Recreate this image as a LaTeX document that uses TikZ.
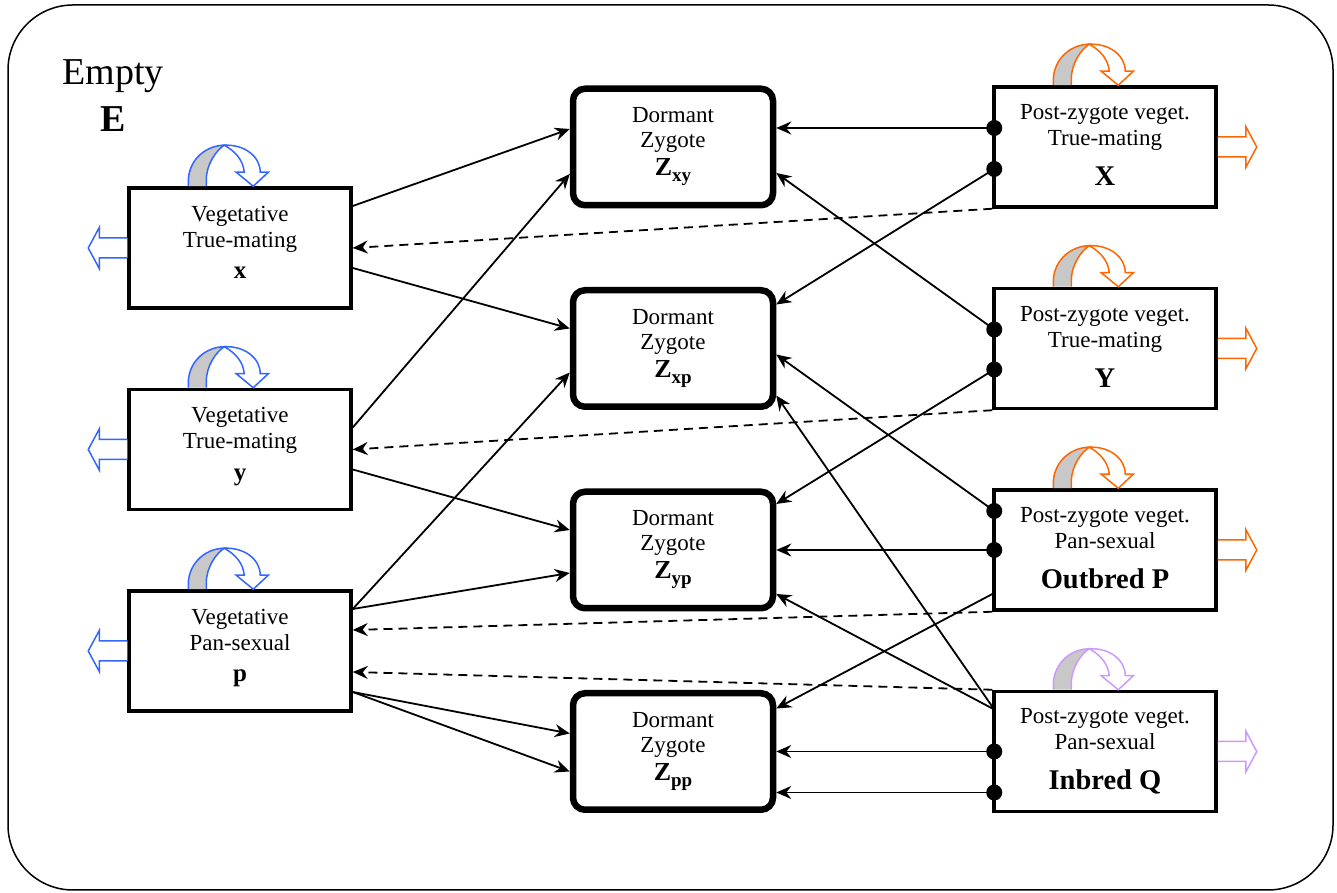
\documentclass[tikz,border=0pt]{standalone}
\usepackage{fontspec}
\setmainfont{Liberation Serif}
\usepackage{tikz}
\usetikzlibrary{arrows.meta,positioning,calc}

\definecolor{vegblue}{RGB}{51,102,255}
\definecolor{postorange}{RGB}{255,102,0}
\definecolor{inbredlilac}{RGB}{204,153,255}
\definecolor{loopgray}{RGB}{200,200,200}

%% curved arrow sitting on top of a box
\newcommand{\selfloop}[2]{%
  \begin{scope}[shift={(#1.north west)}, -, line width=1.5pt, draw=#2]
    \filldraw[fill=loopgray] (61,0) -- (61,6) .. controls (62,28) and (80,41) .. (97,41)
      .. controls (89,36) and (79,22) .. (79,6) -- (79,0);
    \filldraw[fill=white] (97,41) .. controls (117,42) and (133,30) .. (133,14) -- (141,14)
      -- (126,0) -- (109,14) -- (117,14) .. controls (116,26) and (108,35) .. (97,41) -- cycle;
  \end{scope}}
%% hollow block arrow leaving a box
\newcommand{\outarrow}[3]{%
  \filldraw[-, line width=1.5pt, draw=#3, fill=white, shift={(#1)}, xscale=#2]
    (0,10) -- (28,10) -- (28,20.5) -- (39,0) -- (28,-20.5) -- (28,-10) -- (0,-10);}
\newcommand{\zname}[1]{\fontsize{26}{25}\selectfont\bfseries Z\raisebox{-6pt}{\fontsize{19}{19}\selectfont #1}}

\begin{document}
\begin{tikzpicture}
  [->, >={Stealth[length=15pt,width=13pt,inset=5pt]}, x=1pt, y=1pt, node distance=201.5pt,
   line width=1.8pt,
   veg/.style = {rectangle, draw=black, line width=3.5pt, minimum width=222pt, minimum height=120pt,
                 align=center, inner sep=0pt, font=\fontsize{23}{26}\selectfont},
   post/.style = {veg},
   zyg/.style = {rectangle, rounded corners=12pt, draw=black, line width=6.5pt, minimum width=200pt,
                 minimum height=116.5pt, align=center, inner sep=0pt, font=\fontsize{23}{25}\selectfont},
   back/.style = {dash pattern=on 9pt off 6pt},
   empty/.style = {rectangle, align=center, font=\fontsize{38}{47}\selectfont}]

  \useasboundingbox (0,0) rectangle (1337,893);
  \draw[-, line width=1.5pt, rounded corners=65pt] (8,3) rectangle (1333,888);

  %% place elements on canvas
  \node[empty] (emptyE) at (113,797) {Empty\\\textbf{E}};

  \node[veg] (x) at (240,645) {Vegetative\\True-mating\\[5.6pt]\fontsize{25}{26}\selectfont\bfseries x\rule[-11.6pt]{0pt}{1pt}};
  \node[veg] (y) [below of = x] {Vegetative\\True-mating\\[5.6pt]\fontsize{25}{26}\selectfont\bfseries y\rule[-11.6pt]{0pt}{1pt}};
  \node[veg] (p) [below of = y] {Vegetative\\Pan-sexual\\[5.6pt]\fontsize{25}{26}\selectfont\bfseries p\rule[-11.6pt]{0pt}{1pt}};

  \node[zyg] (zxy) at (673,746)     {Dormant\\Zygote\\[3pt]\zname{xy}};
  \node[zyg] (zxp) [below of = zxy] {Dormant\\Zygote\\[3pt]\zname{xp}};
  \node[zyg] (zyp) [below of = zxp] {Dormant\\Zygote\\[3pt]\zname{yp}};
  \node[zyg] (zpp) [below of = zyp] {Dormant\\Zygote\\[3pt]\zname{pp}};

  \node[post] (X) [right of = zxy, node distance = 432pt] {Post-zygote veget.\\True-mating\\[14pt]\fontsize{28.5}{26}\selectfont\bfseries X\rule[-4pt]{0pt}{1pt}};
  \node[post] (Y) [below of = X] {Post-zygote veget.\\True-mating\\[14pt]\fontsize{28.5}{26}\selectfont\bfseries Y\rule[-4pt]{0pt}{1pt}};
  \node[post] (P) [below of = Y] {Post-zygote veget.\\Pan-sexual\\[14pt]\fontsize{28.5}{26}\selectfont\bfseries Outbred P\rule[-4pt]{0pt}{1pt}};
  \node[post] (Q) [below of = P] {Post-zygote veget.\\Pan-sexual\\[14pt]\fontsize{28.5}{26}\selectfont\bfseries Inbred Q\rule[-4pt]{0pt}{1pt}};

  %% loops and outflow
  \selfloop{x}{vegblue} \selfloop{y}{vegblue} \selfloop{p}{vegblue}
  \selfloop{X}{postorange} \selfloop{Y}{postorange} \selfloop{P}{postorange}
  \selfloop{Q}{inbredlilac}
  \outarrow{x.west}{-1}{vegblue} \outarrow{y.west}{-1}{vegblue} \outarrow{p.west}{-1}{vegblue}
  \outarrow{X.east}{1}{postorange} \outarrow{Y.east}{1}{postorange} \outarrow{P.east}{1}{postorange}
  \outarrow{Q.east}{1}{inbredlilac}

  %% mating: vegetative -> zygote
  \draw ([yshift=42pt]x.east)  -- ([yshift=18pt]zxy.west);
  \draw ([yshift=-20pt]x.east) -- ([yshift=20pt]zxp.west);
  \draw ([yshift=22pt]y.east)  -- ([yshift=-27pt]zxy.west);
  \draw ([yshift=-20pt]y.east) -- ([yshift=20pt]zyp.west);
  \draw ([yshift=42pt]p.east)  -- ([yshift=-24pt]zxp.west);
  \draw ([yshift=42pt]p.east)  -- ([yshift=-23pt]zyp.west);
  \draw ([yshift=-41pt]p.east) -- ([yshift=18pt]zpp.west);
  \draw ([yshift=-41pt]p.east) -- ([yshift=-20pt]zpp.west);

  %% mating: post-zygote -> zygote
  \coordinate (X1) at ([xshift=2pt,yshift=19pt]X.west);
  \coordinate (X2) at ([xshift=2pt,yshift=-22pt]X.west);
  \coordinate (Y1) at ([xshift=2pt,yshift=19pt]Y.west);
  \coordinate (Y2) at ([xshift=2pt,yshift=-21pt]Y.west);
  \coordinate (P1) at ([xshift=2pt,yshift=39pt]P.west);
  \coordinate (P2) at ([xshift=2pt]P.west);
  \coordinate (P3) at ([xshift=2pt,yshift=-43pt]P.west);
  \coordinate (Q0) at ([xshift=2pt,yshift=42pt]Q.west);
  \coordinate (Q1) at ([xshift=2pt]Q.west);
  \coordinate (Q2) at ([xshift=2pt,yshift=-41pt]Q.west);

  \draw (X1) -- ([yshift=19pt]zxy.east);
  \draw (X2) -- ([yshift=44pt]zxp.east);
  \draw (Y1) -- ([yshift=-26pt]zxy.east);
  \draw (Y2) -- ([yshift=46pt]zyp.east);
  \draw (P1) -- ([yshift=-6pt]zxp.east);
  \draw (P2) -- (zyp.east);
  \draw (P3) -- ([yshift=43pt]zpp.east);
  \draw (Q0) -- ([yshift=-47pt]zxp.east);
  \draw (Q0) -- ([yshift=-44pt]zyp.east);
  \draw (Q1) -- (zpp.east);
  \draw (Q2) -- ([yshift=-41pt]zpp.east);
  \foreach \d in {X1,X2,Y1,Y2,P1,P2,Q1,Q2} \fill (\d) circle (8pt);

  %% reversion to vegetative
  \draw[back] (X.south west) -- (x.east);
  \draw[back] (Y.south west) -- (y.east);
  \draw[back] (P.south west) -- ([yshift=21pt]p.east);
  \draw[back] (Q.north west) -- ([yshift=-21pt]p.east);
\end{tikzpicture}
\end{document}
